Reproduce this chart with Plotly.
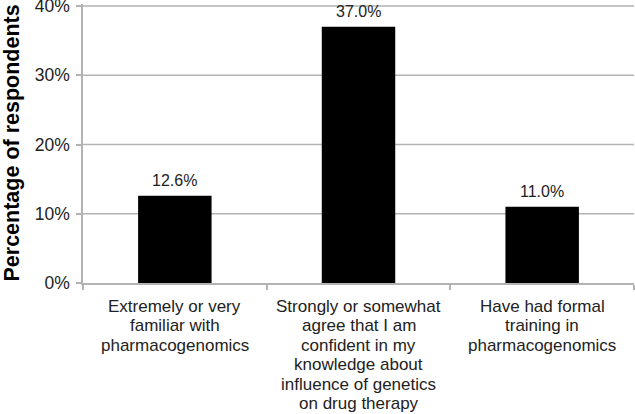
import plotly.graph_objects as go

categories = [
    "Extremely or very<br>familiar with<br>pharmacogenomics",
    "Strongly or somewhat<br>agree that I am<br>confident in my<br>knowledge about<br>influence of genetics<br>on drug therapy",
    "Have had formal<br>training in<br>pharmacogenomics",
]
values = [12.6, 37.0, 11.0]
labels = ["12.6%", "37.0%", "11.0%"]
y_ticks = [0, 10, 20, 30, 40]
y_ticktext = ["0%", "10%", "20%", "30%", "40%"]

font = "Liberation Sans, Arial, sans-serif"
grid = "#b3b3b3"
fig = go.Figure(go.Bar(x=categories, y=values, marker=dict(color="black", line=dict(width=0)),
                       width=0.4))
for c, v, t in zip(categories, values, labels):
    fig.add_annotation(x=c, y=v, text=t, showarrow=False, yanchor="bottom", yshift=5,
                       font=dict(family=font, size=16, color="#222"))
# category labels, one annotation per line for tighter line spacing
for c in categories:
    for i, line in enumerate(c.split("<br>")):
        fig.add_annotation(x=c, y=0, text=line, showarrow=False, yanchor="middle",
                           yshift=-(23 + 19.5 * i), font=dict(family=font, size=17, color="#222"))
fig.add_annotation(xref="paper", yref="paper", x=0, y=0.5, xshift=-72, xanchor="center",
                   yanchor="middle", showarrow=False,
                   text="<b>Percentage of respondents</b>", textangle=-90,
                   font=dict(family=font, size=21.5, color="black"))
# horizontal grid lines at the y ticks
for yv in y_ticks[1:]:
    fig.add_shape(type="line", xref="paper", x0=0, x1=1, yref="y", y0=yv, y1=yv,
                  line=dict(color=grid, width=1.5), layer="below")
fig.update_layout(
    width=635, height=414, margin=dict(l=83, r=1, t=4, b=131),
    paper_bgcolor="white", plot_bgcolor="white", showlegend=False,
    font=dict(family=font, size=15, color="#222"),
)
fig.update_yaxes(range=[0, 40.3], tickvals=y_ticks, ticktext=y_ticktext, showgrid=False,
                 showline=True, linecolor=grid,
                 linewidth=1.5, ticks="outside", ticklen=5, tickcolor=grid, tickwidth=1.5,
                 tickfont=dict(size=17.5), zeroline=False, automargin=False, ticklabelstandoff=3,
                 ticklabeloverflow="allow")
fig.update_xaxes(showline=True, linecolor=grid, linewidth=1.5, ticks="outside",
                 tickson="boundaries", ticklen=5, tickcolor=grid, tickwidth=1.5,
                 showticklabels=False, automargin=False)
fig.write_html("out.html", config={"displayModeBar": False},
               post_script="document.body.style.margin='0';")
